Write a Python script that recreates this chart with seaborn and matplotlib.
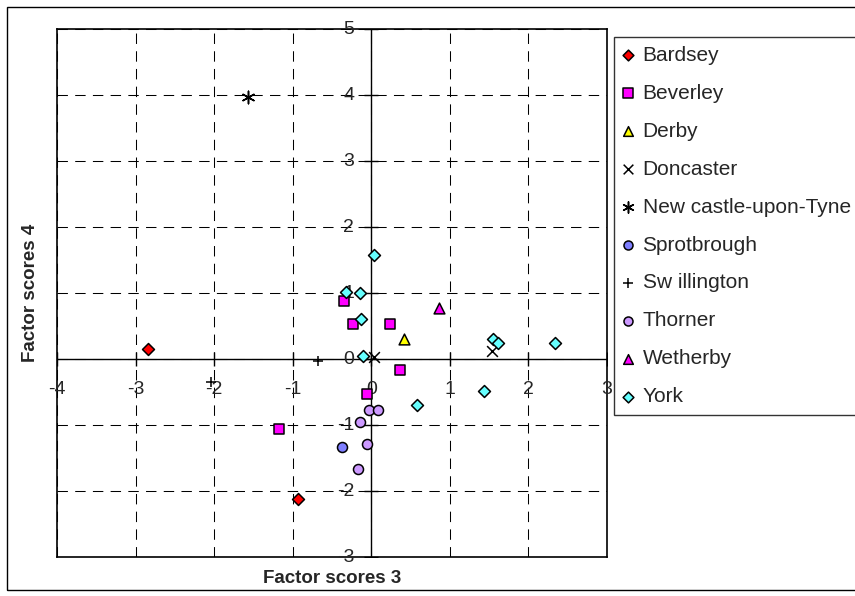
import matplotlib
matplotlib.use("Agg")
import matplotlib.pyplot as plt
import seaborn as sns
import pandas as pd
from matplotlib.patches import Rectangle

# ---- data ----
bardsey_x = [-2.84, -0.93]
bardsey_y = [0.15, -2.12]
beverley_x = [-0.35, -0.23, 0.24, 0.37, -0.05, -1.17]
beverley_y = [0.88, 0.53, 0.53, -0.17, -0.53, -1.06]
derby_x = [0.42]
derby_y = [0.31]
doncaster_x = [0.04, 1.53]
doncaster_y = [0.03, 0.12]
newcastle_x = [-1.57]
newcastle_y = [3.97]
sprotbrough_x = [-0.37]
sprotbrough_y = [-1.33]
swillington_x = [-0.68, -2.04]
swillington_y = [-0.03, -0.35]
thorner_x = [-0.03, 0.08, -0.15, -0.05, -0.17]
thorner_y = [-0.78, -0.78, -0.96, -1.29, -1.66]
wetherby_x = [0.86]
wetherby_y = [0.77]
york_x = [0.04, -0.32, -0.15, -0.13, -0.11, 0.58, 1.44, 1.55, 1.61, 2.34]
york_y = [1.58, 1.02, 1.00, 0.60, 0.05, -0.70, -0.48, 0.30, 0.25, 0.24]

x_ticks = [-4, -3, -2, -1, 0, 1, 2, 3]
y_ticks = [-3, -2, -1, 0, 1, 2, 3, 4, 5]

groups = [
    ("Bardsey", bardsey_x, bardsey_y, "D", "#FF0000", 37),
    ("Beverley", beverley_x, beverley_y, "s", "#FF00FF", 60),
    ("Derby", derby_x, derby_y, "^", "#FFFF00", 60),
    ("Doncaster", doncaster_x, doncaster_y, "x", "black", 60),
    ("New castle-upon-Tyne", newcastle_x, newcastle_y, (6, 2, 0), "black", 80),
    ("Sprotbrough", sprotbrough_x, sprotbrough_y, "o", "#7F7FFF", 52),
    ("Sw illington", swillington_x, swillington_y, "+", "black", 60),
    ("Thorner", thorner_x, thorner_y, "o", "#CC99FF", 52),
    ("Wetherby", wetherby_x, wetherby_y, "^", "#FF00FF", 60),
    ("York", york_x, york_y, "D", "#66FFFF", 37),
]

sns.set_theme(style="white")
plt.rcParams['font.family'] = ['Liberation Sans', 'DejaVu Sans']

W, H = 855, 596
fig = plt.figure(figsize=(W / 100, H / 100), dpi=100)
fig.patch.set_facecolor("white")
L, R, T, B = 57, 607, 29, 557
ax = fig.add_axes([L / W, 1 - B / H, (R - L) / W, (B - T) / H])

for name, xs, ys, mk, col, s in groups:
    df = pd.DataFrame({"x": xs, "y": ys})
    line_marker = mk in ("x", "+") or isinstance(mk, tuple)
    if line_marker:
        sns.scatterplot(data=df, x="x", y="y", ax=ax, marker=mk, color="black",
                        s=s, linewidth=1.1, label=name, zorder=5)
    else:
        sns.scatterplot(data=df, x="x", y="y", ax=ax, marker=mk, color=col,
                        s=s, edgecolor="black", linewidth=1.1, label=name, zorder=5)

ax.set_xlim(x_ticks[0], x_ticks[-1])
ax.set_ylim(y_ticks[0], y_ticks[-1])
ax.set_xticks(x_ticks)
ax.set_yticks(y_ticks)
ax.set_xticklabels([])
ax.set_yticklabels([])
ax.tick_params(length=0)
ax.grid(True, color="black", linestyle=(0, (10, 7)), linewidth=0.75)
for sp in ax.spines.values():
    sp.set_color("black")
    sp.set_linewidth(1.2)
    sp.set_visible(True)

ax.axhline(0, color="black", lw=1.0, zorder=3)
ax.axvline(0, color="black", lw=1.0, zorder=3)
ax.plot(x_ticks, [0] * len(x_ticks), linestyle="none", marker="|", ms=10,
        mew=1.0, color="black", zorder=3)
ax.plot([0] * len(y_ticks), y_ticks, linestyle="none", marker="_", ms=10,
        mew=1.0, color="black", zorder=3)

# tick labels at the crossing axes
for xv in x_ticks:
    ax.annotate(f"{xv}", xy=(xv, 0), xytext=(0, -31),
                textcoords="offset pixels", ha="center", va="center",
                fontsize=14, zorder=4)
for yv in y_ticks:
    ax.annotate(f"{yv}", xy=(0, yv), xytext=(-17, 0),
                textcoords="offset pixels", ha="right", va="center",
                fontsize=14, zorder=4)

ax.set_xlabel("Factor scores 3", fontsize=13.5, fontweight="bold")
ax.set_ylabel("Factor scores 4", fontsize=13.5, fontweight="bold")
ax.xaxis.set_label_coords(0.5, -0.024)
ax.yaxis.set_label_coords(-0.033, 0.5)

handles, labels = ax.get_legend_handles_labels()
ax.legend_.remove()
leg = fig.legend(handles, labels, loc="upper left",
                 bbox_to_anchor=(614 / W, 1 - 37 / H), frameon=True,
                 fancybox=False, shadow=False, fontsize=15, markerscale=0.9,
                 labelspacing=0.91, handlelength=0.5, handletextpad=0.45,
                 borderpad=0.42, borderaxespad=0)
leg.get_frame().set_edgecolor("black")
leg.get_frame().set_linewidth(1.0)

# outer chart frame
fig.patches.append(Rectangle((7 / W, 1 - 590 / H), 1.0, (590 - 7) / H,
                             transform=fig.transFigure, fill=False,
                             edgecolor="black", linewidth=1.0, zorder=0))

fig.savefig("out.png", dpi=100)
